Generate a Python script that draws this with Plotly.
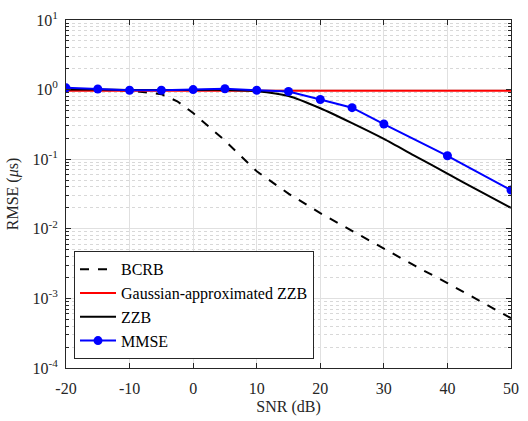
import plotly.graph_objects as go

snr = [-20, -15, -10, -5, 0, 5, 10, 15, 20, 25, 30, 35, 40, 45, 50]
bcrb_snr = [-20, -15, -10, -5, -2.5, 0, 5, 10, 15, 20, 25, 30, 35, 40, 45, 50]
bcrb = [1.0, 0.99, 0.97, 0.86, 0.68, 0.46, 0.185, 0.067, 0.032, 0.0168, 0.0093, 0.0051, 0.0029, 0.00166, 0.00093, 0.00052]
gzzb = [0.96, 0.96, 0.96, 0.96, 0.96, 0.96, 0.96, 0.96, 0.96, 0.96, 0.96, 0.96, 0.96, 0.96, 0.96]
zzb = [1.0, 1.0, 0.99, 0.99, 0.99, 0.99, 0.95, 0.81, 0.54, 0.33, 0.196, 0.11, 0.062, 0.035, 0.020]
mmse_snr = [-20, -15, -10, -5, 0, 5, 10, 15, 20, 25, 30, 40, 50]
mmse = [1.06, 1.02, 0.98, 0.98, 1.0, 1.03, 0.98, 0.94, 0.72, 0.55, 0.32, 0.112, 0.036]

ytick_vals = [1e-4, 1e-3, 1e-2, 1e-1, 1e0, 1e1]
ytick_text = ["10<sup>-4</sup>", "10<sup>-3</sup>", "10<sup>-2</sup>", "10<sup>-1</sup>", "10<sup>0</sup>", "10<sup>1</sup>"]
xtick_vals = [-20, -10, 0, 10, 20, 30, 40, 50]
minor_vals = [m * 10 ** e for e in range(-4, 1) for m in range(2, 10)]

FONT = "Liberation Serif, Times New Roman, serif"

fig = go.Figure()
fig.add_trace(go.Scatter(x=bcrb_snr, y=bcrb, mode="lines", name="BCRB",
                         line=dict(color="black", width=2, dash="dash")))
fig.add_trace(go.Scatter(x=snr, y=gzzb, mode="lines", name="Gaussian-approximated ZZB",
                         line=dict(color="#ff0000", width=2)))
fig.add_trace(go.Scatter(x=snr, y=zzb, mode="lines", name="ZZB",
                         line=dict(color="black", width=2, shape="spline", smoothing=0.6)))
fig.add_trace(go.Scatter(x=mmse_snr, y=mmse, mode="lines+markers", name="MMSE",
                         line=dict(color="#0000ff", width=2),
                         marker=dict(color="#0000ff", size=9)))

fig.update_layout(
    width=528, height=421,
    margin=dict(l=66, r=9, t=11, b=53),
    paper_bgcolor="white", plot_bgcolor="white",
    font=dict(family=FONT, size=16, color="#262626"),
    showlegend=True,
    legend=dict(x=0.018, y=0.025, xanchor="left", yanchor="bottom",
                bgcolor="white", bordercolor="#262626", borderwidth=1,
                font=dict(family=FONT, size=16, color="black"),
                tracegroupgap=0, itemwidth=36),
)
fig.update_xaxes(
    range=[-20, 50], tickvals=xtick_vals, ticktext=[str(v) for v in xtick_vals],
    showgrid=True, gridcolor="#e0e0e0", gridwidth=1,
    showline=True, linecolor="#262626", linewidth=1, mirror="ticks",
    ticks="inside", ticklen=5, tickcolor="#262626",
    zeroline=False, ticklabelstandoff=6, ticklabeloverflow="allow",
    title=dict(text="SNR (dB)", font=dict(family=FONT, size=16), standoff=4),
    tickfont=dict(family=FONT, size=16),
)
fig.update_yaxes(
    type="log", range=[-4, 1], tickvals=ytick_vals, ticktext=ytick_text,
    showgrid=True, gridcolor="#e0e0e0", gridwidth=1,
    showline=True, linecolor="#262626", linewidth=1, mirror="ticks",
    ticks="inside", ticklen=5, tickcolor="#262626",
    zeroline=False, ticklabelstandoff=4, ticklabeloverflow="allow",
    minor=dict(tickvals=minor_vals, ticks="inside", ticklen=3, tickcolor="#262626",
               showgrid=True, gridcolor="#d8d8d8", griddash="dot", gridwidth=1),
    title=dict(text="RMSE (<i>μ</i>s)", font=dict(family=FONT, size=16), standoff=9),
    tickfont=dict(family=FONT, size=16),
)

fig.write_html("out.html")
